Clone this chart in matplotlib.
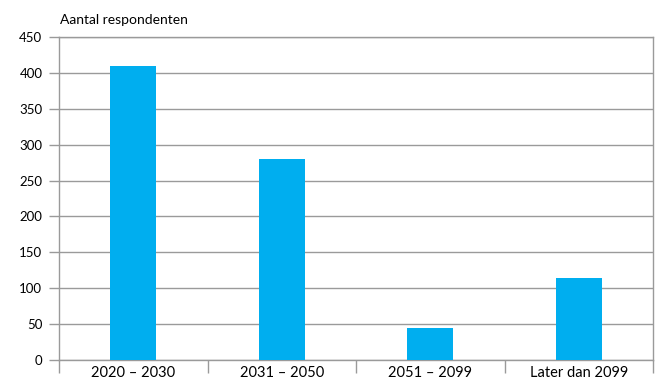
import numpy as np
import matplotlib.pyplot as plt

categories = ["2020 – 2030", "2031 – 2050", "2051 – 2099", "Later dan 2099"]
respondents = [410, 280, 44, 114]
y_ticks = [0, 50, 100, 150, 200, 250, 300, 350, 400, 450]

plt.rcParams['font.family'] = ['Lato', 'DejaVu Sans']

fig = plt.figure(figsize=(6.58, 3.89), dpi=100)
ax = fig.add_axes([59 / 658, 1 - 360 / 389, 594 / 658, 323 / 389])

x = np.arange(len(categories))
ax.bar(x, respondents, width=0.31, color="#00AEEF", zorder=3)

ax.set_xlim(-0.5, len(categories) - 0.5)
ax.set_ylim(0, 450)
ax.set_yticks(y_ticks)
ax.set_yticklabels([str(v) for v in y_ticks], fontsize=9.5)
ax.yaxis.grid(True, color="#9a9a9a", linewidth=1.0, zorder=0)

# category ticks sit between the bars
ax.set_xticks(np.arange(len(categories) + 1) - 0.5)
ax.set_xticklabels([])
ax.set_xticks(x, minor=True)
ax.set_xticklabels(categories, minor=True, fontsize=10.5)
ax.tick_params(axis="x", which="major", length=9, color="#9a9a9a", width=1)
ax.tick_params(axis="x", which="minor", length=0, pad=4)
ax.tick_params(axis="y", length=7, color="#9a9a9a", width=1, pad=5)

for s in ax.spines.values():
    s.set_color("#9a9a9a")
    s.set_linewidth(1.0)

fig.text(60 / 658, 1 - 20 / 389, "Aantal respondenten", fontsize=10, va="center", ha="left")

fig.savefig("out.png", dpi=100)
